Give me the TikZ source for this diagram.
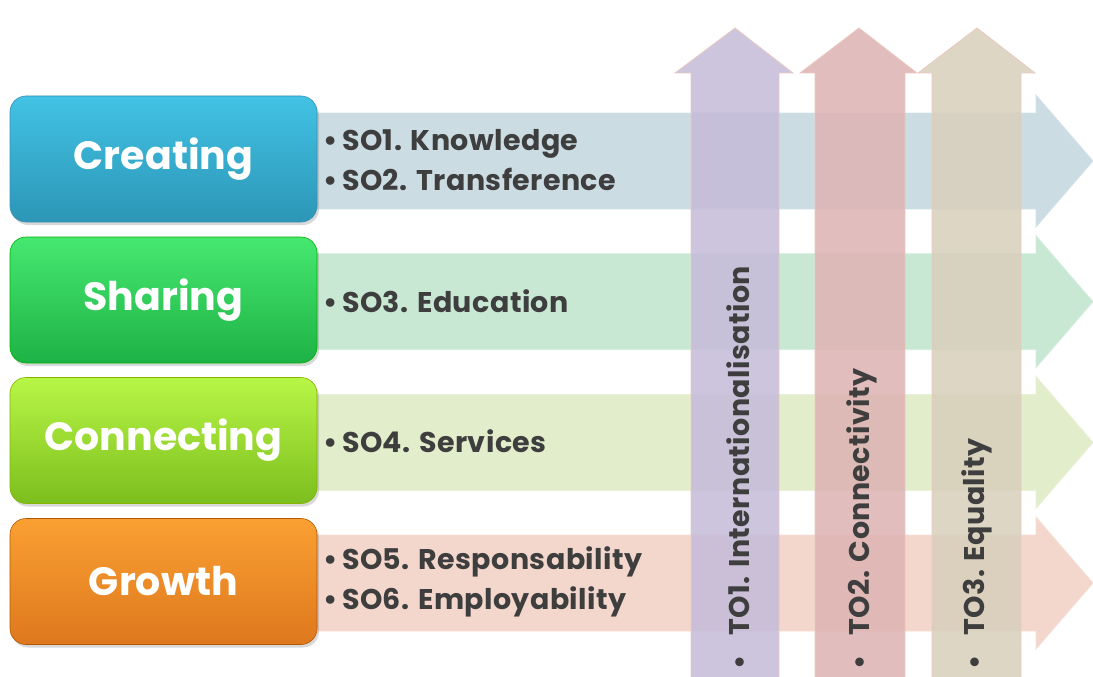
\documentclass[tikz,border=0pt]{standalone}
\usepackage{fontspec}
\setmainfont{Poppins}
\usetikzlibrary{shadows}
\definecolor{txtgray}{HTML}{3E3E3E}
\definecolor{bandA}{HTML}{CBDCE3}
\definecolor{bandB}{HTML}{C9E8D4}
\definecolor{bandC}{HTML}{E2EDCB}
\definecolor{bandD}{HTML}{F3D7CC}
\definecolor{toA}{HTML}{C6BCD9}
\definecolor{toB}{HTML}{DEB4B4}
\definecolor{toC}{HTML}{D8D0BD}
\definecolor{edgeP}{HTML}{EBC9C0}
\tikzset{
  catbox/.style={rounded corners=16pt, minimum width=307pt, minimum height=126pt,
    inner sep=0pt, text=white, font=\fontsize{39.5}{44}\selectfont\bfseries,
    draw=#1!70!black, line width=0.6pt},
  sotext/.style={anchor=west, inner sep=0pt, text=txtgray, align=left,
    font=\fontsize{28.5}{40}\selectfont\bfseries\addfontfeature{LetterSpace=1.5}},
  totext/.style={anchor=west, inner sep=0pt, rotate=90, text=txtgray,
    font=\fontsize{28.5}{30}\selectfont\bfseries\addfontfeature{LetterSpace=1.5}},
  band/.style={fill=#1, draw=#1!80!white, line width=0.8pt},
  toarrow/.style={fill=#1, fill opacity=0.88, draw=edgeP, line width=0.8pt}
}
\begin{document}
\begin{tikzpicture}[x=1pt,y=-1pt]
\useasboundingbox (0,0) rectangle (1093,677);
% horizontal band arrows
\foreach \dy/\c in {0/bandA,140.7/bandB,281.4/bandC,422/bandD}{
  \path[band=\c] (317,113+\dy) -- (1036,113+\dy) -- (1036,95+\dy) -- (1093,161+\dy)
    -- (1036,227+\dy) -- (1036,209+\dy) -- (317,209+\dy) -- cycle;
}
% category boxes
\node[catbox=cyan, top color={rgb,255:red,66;green,194;blue,228}, bottom color={rgb,255:red,44;green,150;blue,182},
  drop shadow={opacity=0.3,shadow xshift=2pt,shadow yshift=-3pt}] (creating) at (163.5,159) {Creating};
\node[catbox=green, top color={rgb,255:red,70;green,232;blue,112}, bottom color={rgb,255:red,30;green,178;blue,70},
  drop shadow={opacity=0.3,shadow xshift=2pt,shadow yshift=-3pt}] (sharing) at (163.5,300) {Sharing};
\node[catbox=lime, top color={rgb,255:red,184;green,246;blue,70}, bottom color={rgb,255:red,124;green,190;blue,30},
  drop shadow={opacity=0.3,shadow xshift=2pt,shadow yshift=-3pt}] (connecting) at (163.5,440.5) {Connecting};
\node[catbox=orange, top color={rgb,255:red,250;green,160;blue,50}, bottom color={rgb,255:red,222;green,120;blue,30},
  drop shadow={opacity=0.3,shadow xshift=2pt,shadow yshift=-3pt}] (growth) at (163.5,581.5) {Growth};
% SO texts
\node[sotext] (so12) at (323,160) {\textbullet\,SO1. Knowledge\\\textbullet\,SO2. Transference};
\node[sotext] (so3) at (323,301) {\textbullet\,SO3. Education};
\node[sotext] (so4) at (323,441) {\textbullet\,SO4. Services};
\node[sotext] (so56) at (323,582) {\textbullet\,SO5. Responsability\\\textbullet\,SO6. Employability};
% vertical arrows
\path[toarrow=toA] (691,690) -- (691,73) -- (675,73) -- (735,28) -- (793,73) -- (779,73) -- (779,690) -- cycle;
\path[toarrow=toB] (815,690) -- (815,73) -- (800,73) -- (859,28) -- (917,73) -- (905,73) -- (905,690) -- cycle;
\path[toarrow=toC] (932,690) -- (932,73) -- (918,73) -- (977,28) -- (1035,73) -- (1021,73) -- (1021,690) -- cycle;
% TO texts
\node[totext] (to1) at (738,670) {\textbullet\hspace{20pt}TO1. Internationalisation};
\node[totext] (to2) at (862,670) {\textbullet\hspace{20pt}TO2. Connectivity};
\node[totext] (to3) at (977,670) {\textbullet\hspace{20pt}TO3. Equality};
\end{tikzpicture}
\end{document}
